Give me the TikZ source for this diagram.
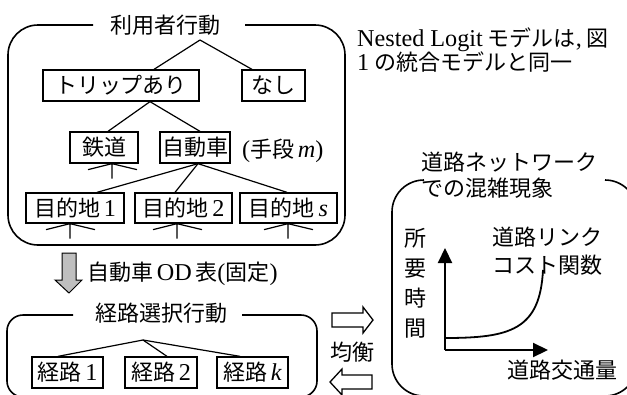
\documentclass[tikz,border=0pt]{standalone}
\usepackage{fontspec}
\setmainfont{Noto Sans CJK JP}
\newfontfamily\lat[Scale=1.1]{Liberation Serif}
\usetikzlibrary{arrows.meta,calc}
\tikzset{
  txt/.style={inner sep=0pt, text height=19pt, text depth=3pt},
  box/.style={txt, draw, line width=1.3pt, minimum height=31pt},
  conn/.style={line width=1.2pt},
  frame/.style={line width=1.6pt},
  axis/.style={line width=2.2pt, -{Triangle[length=15pt,width=14pt]}},
  hollow/.style={draw, line width=1.3pt, fill=white},
}
\newcommand\forkbelow[2]{\draw[conn] ([xshift=#2]#1.south) -- ++(-24,6) ++(24,-6) -- ++(25,6) ++(-25,-6) -- ++(0,15);}
\begin{document}
\begin{tikzpicture}[x=1pt,y=-1pt,font=\fontsize{22}{26}\selectfont]
\useasboundingbox (0,0) rectangle (627,394);
% ---------- top frame
\node[txt] (t1) at (165,25) {利用者行動};
\draw[frame, rounded corners=30pt] (93,25) -- (8,25) -- (8,245) -- (345,245) -- (345,25) -- (245,25);
\coordinate (a1) at (200,40);
\node[box, minimum width=156pt] (trip) at (121,85.5) {トリップあり};
\node[box, minimum width=63pt] (nashi) at (273.5,85.5) {なし};
\node[box, minimum width=68pt] (tetsu) at (104,147.5) {鉄道};
\node[box, minimum width=70pt] (car) at (195,147.5) {自動車};
\node[txt, anchor=west] (mode) at (242,149) {{\lat (}手段\,{\lat\itshape m}{\lat )}};
\node[box, minimum width=98pt, minimum height=30pt] (d1) at (75,208) {目的地\,{\lat 1}};
\node[box, minimum width=97pt, minimum height=30pt] (d2) at (183.5,208) {目的地\,{\lat 2}};
\node[box, minimum width=97pt, minimum height=30pt] (ds) at (288.5,208) {目的地\,{\lat\itshape s}};
\draw[conn] (a1) -- ([xshift=33pt]trip.north);
\draw[conn] (a1) -- ([xshift=-21.5pt]nashi.north);
\draw[conn] ([xshift=29pt]trip.south) -- ([xshift=4pt]tetsu.north);
\draw[conn] ([xshift=29pt]trip.south) -- ([xshift=5pt]car.north);
\draw[conn] ([xshift=3pt]car.south) -- ([xshift=22pt]d1.north);
\draw[conn] ([xshift=3pt]car.south) -- ([xshift=-8.5pt]d2.north);
\draw[conn] ([xshift=3pt]car.south) -- ([xshift=-1.5pt]ds.north);
\forkbelow{tetsu}{8pt}
\forkbelow{d1}{-5pt}
\forkbelow{d2}{-6.5pt}
\forkbelow{ds}{-0.5pt}
% ---------- gray arrow
\draw[line width=1pt, fill=gray!50] (62,253) -- (76,253) -- (76,280) -- (82,280) -- (69,293) -- (55,280) -- (62,280) -- cycle;
\node[txt, anchor=west] (od) at (87,272) {自動車\,{\lat OD}\,表{\lat (}固定{\lat )}};
% ---------- bottom frame
\node[txt] (t2) at (161,313) {経路選択行動};
\draw[frame, rounded corners=16pt] (73,315) -- (7,315) -- (7,397) -- (317,397) -- (317,315) -- (242,315);
\coordinate (a2) at (143,340);
\node[box, minimum width=71pt] (r1) at (67.5,372.5) {経路\,{\lat 1}};
\node[box, minimum width=72pt] (r2) at (161,372.5) {経路\,{\lat 2}};
\node[box, minimum width=71pt] (rk) at (252.5,372.5) {経路\,{\lat\itshape k}};
\draw[conn] (a2) -- ([xshift=-9.5pt]r1.north);
\draw[conn] (a2) -- ([xshift=6pt]r2.north);
\draw[conn] (a2) -- ([xshift=-12.5pt]rk.north);
% ---------- equilibrium arrows
\draw[hollow] (332,313) -- (363,313) -- (363,307) -- (373,320) -- (363,333) -- (363,327) -- (332,327) -- cycle;
\node[txt] (eq) at (352,352) {均衡};
\draw[hollow] (372,375) -- (342,375) -- (342,369) -- (330,382) -- (342,395) -- (342,389) -- (372,389) -- cycle;
% ---------- note
\node[txt, anchor=west] (n1) at (357,38) {{\lat Nested Logit} モデルは{\lat ,} 図};
\node[txt, anchor=west] (n2) at (357,62) {{\lat 1} の統合モデルと同一};
% ---------- right frame
\node[txt, anchor=west] (rt1) at (421,162) {道路ネットワーク};
\node[txt, anchor=west] (rt2) at (421,188) {での混雑現象};
\draw[frame, rounded corners=32pt] (424,180) -- (392,180) -- (392,396) -- (637,396) -- (637,180) -- (605,180);
\node[align=center, inner sep=0pt, font=\fontsize{22}{30}\selectfont] (ylab) at (415,283) {所\\要\\時\\間};
\node[align=center, inner sep=0pt, font=\fontsize{22}{28}\selectfont] (cost) at (547,251) {道路リンク\\コスト関数};
\node[txt] (xlab) at (562,370) {道路交通量};
\coordinate (o) at (445,350);
\draw[axis] (o) -- (445,248);
\draw[axis] (o) -- (548,350);
\draw[line width=1.8pt] (445,338) .. controls (510,338) and (540,330) .. (543,270);
\end{tikzpicture}
\end{document}
